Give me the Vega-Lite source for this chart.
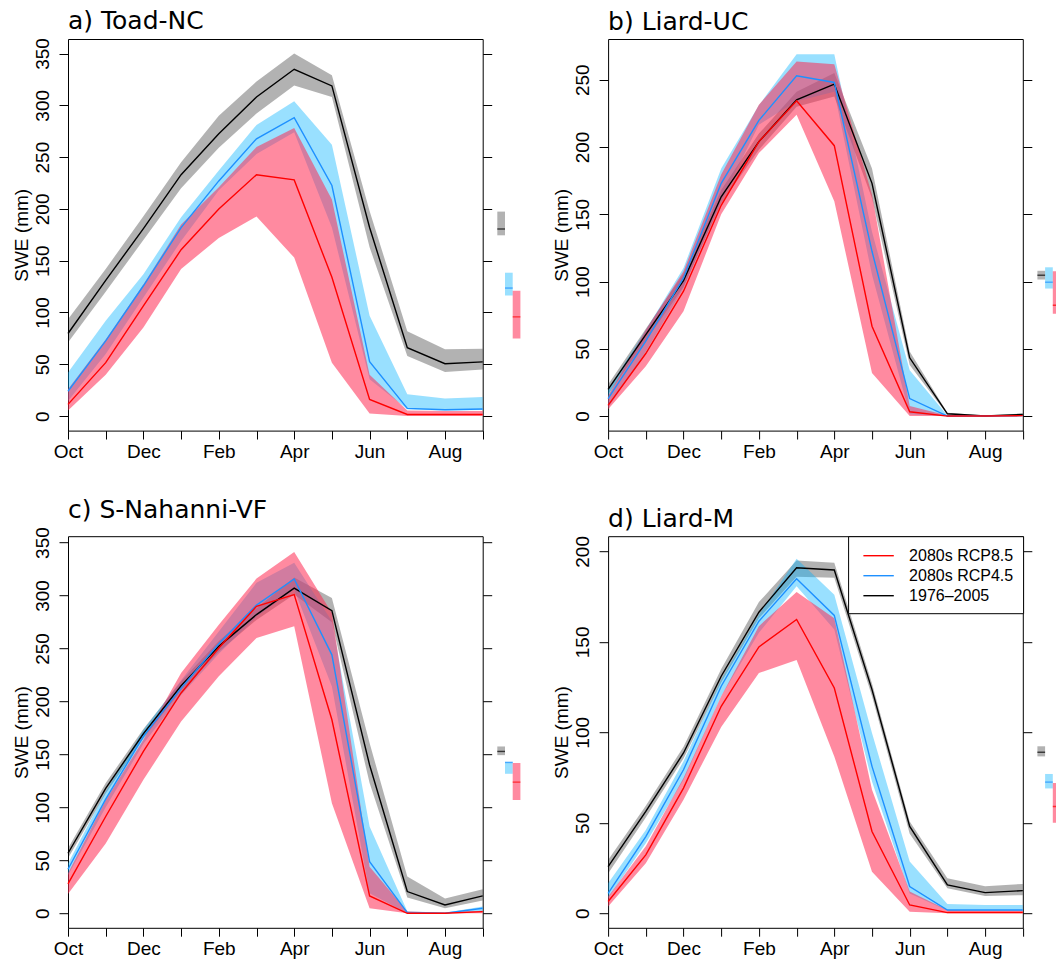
{
  "$schema": "https://vega.github.io/schema/vega-lite/v6.json",
  "padding": {"left": 11, "top": 8, "right": -3, "bottom": 0},
  "background": "white",
  "config": {
    "view": {"stroke": "black", "strokeWidth": 1},
    "axis": {"grid": false, "domain": false, "tickColor": "black", "tickWidth": 1, "labelColor": "black", "labelFont": "Liberation Sans", "labelFontSize": 19, "titleFont": "Liberation Sans", "titleFontSize": 19, "titleFontWeight": "normal", "titleColor": "black"},
    "title": {"font": "DejaVu Sans", "fontSize": 25, "fontWeight": "normal", "anchor": "start", "frame": "group", "color": "black", "offset": 0}
  },
  "datasets": {
    "swe": [
      {"p":"a","m":1,"s":"obs","v":79.7,"lo":71,"hi":93.5},{"p":"a","m":1,"s":"r45","v":24,"lo":14.5,"hi":42},{"p":"a","m":1,"s":"r85","v":11.3,"lo":5.5,"hi":26},
      {"p":"a","m":2,"s":"obs","v":131,"lo":120,"hi":142},{"p":"a","m":2,"s":"r45","v":72.6,"lo":60,"hi":92},{"p":"a","m":2,"s":"r85","v":51.6,"lo":40,"hi":74},
      {"p":"a","m":3,"s":"obs","v":181,"lo":170,"hi":193},{"p":"a","m":3,"s":"r45","v":125.8,"lo":114.5,"hi":137},{"p":"a","m":3,"s":"r85","v":106.5,"lo":85.5,"hi":127},
      {"p":"a","m":4,"s":"obs","v":233,"lo":220,"hi":245},{"p":"a","m":4,"s":"r45","v":182,"lo":169,"hi":192},{"p":"a","m":4,"s":"r85","v":160.6,"lo":142,"hi":185},
      {"p":"a","m":5,"s":"obs","v":272.6,"lo":259,"hi":290},{"p":"a","m":5,"s":"r45","v":227,"lo":218,"hi":237},{"p":"a","m":5,"s":"r85","v":200,"lo":172,"hi":221},
      {"p":"a","m":6,"s":"obs","v":308,"lo":292,"hi":323},{"p":"a","m":6,"s":"r45","v":267.7,"lo":253,"hi":281},{"p":"a","m":6,"s":"r85","v":233,"lo":192.6,"hi":259.7},
      {"p":"a","m":7,"s":"obs","v":334.8,"lo":319,"hi":350},{"p":"a","m":7,"s":"r45","v":288,"lo":274,"hi":304},{"p":"a","m":7,"s":"r85","v":228,"lo":153,"hi":278},
      {"p":"a","m":8,"s":"obs","v":318.7,"lo":308,"hi":329},{"p":"a","m":8,"s":"r45","v":222.6,"lo":182,"hi":262},{"p":"a","m":8,"s":"r85","v":134,"lo":51.6,"hi":209},
      {"p":"a","m":9,"s":"obs","v":182,"lo":163,"hi":198},{"p":"a","m":9,"s":"r45","v":52.6,"lo":35.5,"hi":96.8},{"p":"a","m":9,"s":"r85","v":16,"lo":2.6,"hi":40},
      {"p":"a","m":10,"s":"obs","v":66,"lo":58,"hi":82},{"p":"a","m":10,"s":"r45","v":7.4,"lo":6.5,"hi":21},{"p":"a","m":10,"s":"r85","v":1.6,"lo":0,"hi":5.5},
      {"p":"a","m":11,"s":"obs","v":50.6,"lo":42.6,"hi":64.5},{"p":"a","m":11,"s":"r45","v":6.1,"lo":5.5,"hi":17},{"p":"a","m":11,"s":"r85","v":1.6,"lo":0,"hi":5},
      {"p":"a","m":12,"s":"obs","v":52.3,"lo":45,"hi":65},{"p":"a","m":12,"s":"r45","v":6.8,"lo":5.8,"hi":18.4},{"p":"a","m":12,"s":"r85","v":1.6,"lo":0,"hi":5},

      {"p":"b","m":1,"s":"obs","v":19.8,"lo":16,"hi":23.5},{"p":"b","m":1,"s":"r45","v":13,"lo":6,"hi":20},{"p":"b","m":1,"s":"r85","v":8,"lo":5,"hi":14.9},
      {"p":"b","m":2,"s":"obs","v":60.6,"lo":56,"hi":65},{"p":"b","m":2,"s":"r45","v":55.7,"lo":48,"hi":64},{"p":"b","m":2,"s":"r85","v":46.5,"lo":37,"hi":64},
      {"p":"b","m":3,"s":"obs","v":100.7,"lo":96,"hi":106},{"p":"b","m":3,"s":"r45","v":102.7,"lo":95,"hi":110},{"p":"b","m":3,"s":"r85","v":92.8,"lo":78,"hi":107.7},
      {"p":"b","m":4,"s":"obs","v":163,"lo":158,"hi":168},{"p":"b","m":4,"s":"r45","v":173,"lo":160,"hi":184},{"p":"b","m":4,"s":"r85","v":156.7,"lo":150,"hi":179.5},
      {"p":"b","m":5,"s":"obs","v":204,"lo":198,"hi":210},{"p":"b","m":5,"s":"r45","v":219.8,"lo":216.6,"hi":231},{"p":"b","m":5,"s":"r85","v":204,"lo":195.5,"hi":231.4},
      {"p":"b","m":6,"s":"obs","v":235,"lo":230,"hi":241},{"p":"b","m":6,"s":"r45","v":253,"lo":234,"hi":269},{"p":"b","m":6,"s":"r85","v":234.4,"lo":224,"hi":263.6},
      {"p":"b","m":7,"s":"obs","v":246.8,"lo":237.6,"hi":255},{"p":"b","m":7,"s":"r45","v":248,"lo":241,"hi":269},{"p":"b","m":7,"s":"r85","v":201,"lo":159.7,"hi":261.6},
      {"p":"b","m":8,"s":"obs","v":173,"lo":162,"hi":184},{"p":"b","m":8,"s":"r45","v":122.5,"lo":105,"hi":137},{"p":"b","m":8,"s":"r85","v":66.8,"lo":32,"hi":164.6},
      {"p":"b","m":9,"s":"obs","v":43.3,"lo":38,"hi":48},{"p":"b","m":9,"s":"r45","v":13,"lo":1.2,"hi":34},{"p":"b","m":9,"s":"r85","v":3.2,"lo":0,"hi":7.4},
      {"p":"b","m":10,"s":"obs","v":1.7,"lo":1,"hi":2.5},{"p":"b","m":10,"s":"r45","v":0,"lo":0,"hi":0.5},{"p":"b","m":10,"s":"r85","v":0,"lo":0,"hi":0.5},
      {"p":"b","m":11,"s":"obs","v":0,"lo":0,"hi":0.5},{"p":"b","m":11,"s":"r45","v":0,"lo":0,"hi":0.3},{"p":"b","m":11,"s":"r85","v":0,"lo":0,"hi":0.3},
      {"p":"b","m":12,"s":"obs","v":1.2,"lo":0.5,"hi":2},{"p":"b","m":12,"s":"r45","v":0.3,"lo":0,"hi":0.8},{"p":"b","m":12,"s":"r85","v":0.3,"lo":0,"hi":0.8},

      {"p":"c","m":1,"s":"obs","v":56.7,"lo":52,"hi":61.5},{"p":"c","m":1,"s":"r45","v":41.6,"lo":36,"hi":47},{"p":"c","m":1,"s":"r85","v":27.7,"lo":18.3,"hi":37.8},
      {"p":"c","m":2,"s":"obs","v":118,"lo":113,"hi":123},{"p":"c","m":2,"s":"r45","v":107.7,"lo":100,"hi":115},{"p":"c","m":2,"s":"r85","v":91.4,"lo":66,"hi":107},
      {"p":"c","m":3,"s":"obs","v":169.5,"lo":165,"hi":174},{"p":"c","m":3,"s":"r45","v":167,"lo":160,"hi":173},{"p":"c","m":3,"s":"r85","v":152.8,"lo":126,"hi":163.8},
      {"p":"c","m":4,"s":"obs","v":214.8,"lo":210,"hi":219},{"p":"c","m":4,"s":"r45","v":212.6,"lo":206,"hi":220},{"p":"c","m":4,"s":"r85","v":208,"lo":181,"hi":226.8},
      {"p":"c","m":5,"s":"obs","v":252,"lo":247,"hi":257},{"p":"c","m":5,"s":"r45","v":254.5,"lo":245,"hi":266},{"p":"c","m":5,"s":"r85","v":250.4,"lo":223.7,"hi":272.5},
      {"p":"c","m":6,"s":"obs","v":282,"lo":277,"hi":288},{"p":"c","m":6,"s":"r45","v":291,"lo":280,"hi":312},{"p":"c","m":6,"s":"r85","v":289.8,"lo":260,"hi":316},
      {"p":"c","m":7,"s":"obs","v":307,"lo":301,"hi":317},{"p":"c","m":7,"s":"r45","v":315.6,"lo":305.6,"hi":331},{"p":"c","m":7,"s":"r85","v":300.8,"lo":271,"hi":341},
      {"p":"c","m":8,"s":"obs","v":285.7,"lo":274.7,"hi":297.7},{"p":"c","m":8,"s":"r45","v":244,"lo":214,"hi":275.6},{"p":"c","m":8,"s":"r85","v":182.7,"lo":104,"hi":283.5},
      {"p":"c","m":9,"s":"obs","v":140,"lo":123,"hi":160.7},{"p":"c","m":9,"s":"r45","v":48.8,"lo":19,"hi":82},{"p":"c","m":9,"s":"r85","v":16.4,"lo":4.7,"hi":44},
      {"p":"c","m":10,"s":"obs","v":20.5,"lo":15,"hi":34.7},{"p":"c","m":10,"s":"r45","v":0.6,"lo":0,"hi":2},{"p":"c","m":10,"s":"r85","v":0,"lo":0,"hi":1.6},
      {"p":"c","m":11,"s":"obs","v":7.9,"lo":4.7,"hi":14},{"p":"c","m":11,"s":"r45","v":0,"lo":0,"hi":0.6},{"p":"c","m":11,"s":"r85","v":0,"lo":0,"hi":0.5},
      {"p":"c","m":12,"s":"obs","v":16.4,"lo":12,"hi":22.7},{"p":"c","m":12,"s":"r45","v":4.7,"lo":1.6,"hi":6.3},{"p":"c","m":12,"s":"r85","v":1.6,"lo":0,"hi":2.5},

      {"p":"d","m":1,"s":"obs","v":25.8,"lo":22,"hi":29.5},{"p":"d","m":1,"s":"r45","v":11,"lo":8.3,"hi":16.6},{"p":"d","m":1,"s":"r85","v":6.5,"lo":3.7,"hi":9.2},
      {"p":"d","m":2,"s":"obs","v":56.3,"lo":53,"hi":59.5},{"p":"d","m":2,"s":"r45","v":42.4,"lo":38.7,"hi":46},{"p":"d","m":2,"s":"r85","v":32.3,"lo":27.7,"hi":37},
      {"p":"d","m":3,"s":"obs","v":88.6,"lo":85.5,"hi":92},{"p":"d","m":3,"s":"r45","v":79.3,"lo":73.8,"hi":84},{"p":"d","m":3,"s":"r85","v":69.2,"lo":62.7,"hi":74.7},
      {"p":"d","m":4,"s":"obs","v":131,"lo":127.5,"hi":135},{"p":"d","m":4,"s":"r45","v":125.5,"lo":120,"hi":129},{"p":"d","m":4,"s":"r85","v":114.4,"lo":103,"hi":120},
      {"p":"d","m":5,"s":"obs","v":166.4,"lo":163,"hi":172},{"p":"d","m":5,"s":"r45","v":161.4,"lo":155,"hi":165},{"p":"d","m":5,"s":"r85","v":147.2,"lo":132.8,"hi":158.7},
      {"p":"d","m":6,"s":"obs","v":191,"lo":186,"hi":195},{"p":"d","m":6,"s":"r45","v":184.9,"lo":180.8,"hi":196},{"p":"d","m":6,"s":"r85","v":162.4,"lo":140,"hi":177.5},
      {"p":"d","m":7,"s":"obs","v":189.7,"lo":185.4,"hi":193.7},{"p":"d","m":7,"s":"r45","v":164.6,"lo":156.8,"hi":176},{"p":"d","m":7,"s":"r85","v":124.5,"lo":86.7,"hi":163},
      {"p":"d","m":8,"s":"obs","v":123.6,"lo":120,"hi":127},{"p":"d","m":8,"s":"r45","v":81.2,"lo":72.9,"hi":99.6},{"p":"d","m":8,"s":"r85","v":45.2,"lo":23,"hi":68.3},
      {"p":"d","m":9,"s":"obs","v":48,"lo":44,"hi":50.7},{"p":"d","m":9,"s":"r45","v":14.8,"lo":11,"hi":28.6},{"p":"d","m":9,"s":"r85","v":4.6,"lo":0.9,"hi":12},
      {"p":"d","m":10,"s":"obs","v":15.7,"lo":13.8,"hi":19.4},{"p":"d","m":10,"s":"r45","v":1.8,"lo":1.5,"hi":5.2},{"p":"d","m":10,"s":"r85","v":0.4,"lo":0,"hi":1.8},
      {"p":"d","m":11,"s":"obs","v":11.4,"lo":9.6,"hi":15},{"p":"d","m":11,"s":"r45","v":1.8,"lo":1.3,"hi":4.6},{"p":"d","m":11,"s":"r85","v":0.4,"lo":0,"hi":1.5},
      {"p":"d","m":12,"s":"obs","v":12.5,"lo":10,"hi":16.2},{"p":"d","m":12,"s":"r45","v":1.8,"lo":1.3,"hi":4.6},{"p":"d","m":12,"s":"r85","v":0.4,"lo":0,"hi":1.5}
    ],
    "ann": [
      {"p":"a","s":"obs","v":180.6,"lo":174.5,"hi":197.4},{"p":"a","s":"r45","v":123.6,"lo":116.4,"hi":138.4},{"p":"a","s":"r85","v":95.8,"lo":74.8,"hi":121},
      {"p":"b","s":"obs","v":104.7,"lo":101.5,"hi":108},{"p":"b","s":"r45","v":99.5,"lo":94.8,"hi":110.6},{"p":"b","s":"r85","v":82.4,"lo":76,"hi":107.7},
      {"p":"c","s":"obs","v":152.8,"lo":149.3,"hi":157.5},{"p":"c","s":"r45","v":142.4,"lo":131.7,"hi":143},{"p":"c","s":"r85","v":123.8,"lo":107,"hi":141.8},
      {"p":"d","s":"obs","v":89,"lo":86.7,"hi":92.3},{"p":"d","s":"r45","v":72.5,"lo":69,"hi":77},{"p":"d","s":"r85","v":59,"lo":50,"hi":72}
    ]
  },
  "spacing": 35.2,
  "resolve": {"scale": {"color": "independent"}, "legend": {"color": "independent"}},
  "vconcat": [
    {
      "spacing": 30.1,
      "resolve": {"scale": {"color": "independent"}, "legend": {"color": "independent"}},
      "hconcat": [
        {
          "spacing": 4.3,
          "resolve": {"scale": {"color": "independent"}, "legend": {"color": "independent"}},
          "hconcat": [
            {
              "width": 414.7, "height": 391.6,
              "title": {"text": "a) Toad-NC"},
              "data": {"name": "swe"},
              "transform": [{"filter": "datum.p == 'a'"}],
              "encoding": {"x": {"field": "m", "type": "quantitative", "scale": {"domain": [1, 12], "nice": false, "zero": false}, "axis": {"values": [1,2,3,4,5,6,7,8,9,10,11,12], "labelExpr": "datum.value % 2 == 1 ? ['Oct','Nov','Dec','Jan','Feb','Mar','Apr','May','Jun','Jul','Aug','Sep'][datum.value - 1] : ''", "labelFlush": false, "labelOverlap": false, "title": null, "tickSize": 8.4, "labelPadding": 3}}},
              "layer": [
                {"transform": [{"filter": "datum.s == 'obs'"}], "mark": {"type": "area", "fill": "black", "opacity": 0.3}, "encoding": {"y": {"field": "lo", "type": "quantitative", "scale": {"domain": [-14, 364], "nice": false, "zero": false}, "axis": {"orient": "left", "values": [0,50,100,150,200,250,300,350], "title": "SWE (mm)", "labelAngle": -90, "labelAlign": "center", "labelBaseline": "alphabetic", "tickSize": 9, "labelPadding": 11, "titlePadding": 2}}, "y2": {"field": "hi"}}},
                {"transform": [{"filter": "datum.s == 'r45'"}], "mark": {"type": "area", "fill": "#00b2ff", "opacity": 0.4}, "encoding": {"y": {"field": "lo", "type": "quantitative", "scale": {"domain": [-14, 364], "nice": false, "zero": false}, "axis": null}, "y2": {"field": "hi"}}},
                {"transform": [{"filter": "datum.s == 'r85'"}], "mark": {"type": "area", "fill": "#ff2a52", "opacity": 0.55}, "encoding": {"y": {"field": "lo", "type": "quantitative", "scale": {"domain": [-14, 364], "nice": false, "zero": false}, "axis": null}, "y2": {"field": "hi"}}},
                {"transform": [{"filter": "datum.s == 'obs'"}], "mark": {"type": "line", "strokeWidth": 1.4}, "encoding": {"y": {"field": "v", "type": "quantitative", "scale": {"domain": [-14, 364], "nice": false, "zero": false}, "axis": {"orient": "right", "values": [0,50,100,150,200,250,300,350], "labels": false, "title": null, "tickSize": 9}}, "color": {"datum": "1976–2005", "type": "nominal", "scale": {"domain": ["2080s RCP8.5", "2080s RCP4.5", "1976–2005"], "range": ["#ff0000", "#1e90ff", "#000000"]}, "legend": null}}},
                {"transform": [{"filter": "datum.s == 'r45'"}], "mark": {"type": "line", "strokeWidth": 1.4}, "encoding": {"y": {"field": "v", "type": "quantitative", "scale": {"domain": [-14, 364], "nice": false, "zero": false}, "axis": null}, "color": {"datum": "2080s RCP4.5", "type": "nominal", "legend": null}}},
                {"transform": [{"filter": "datum.s == 'r85'"}], "mark": {"type": "line", "strokeWidth": 1.4}, "encoding": {"y": {"field": "v", "type": "quantitative", "scale": {"domain": [-14, 364], "nice": false, "zero": false}, "axis": null}, "color": {"datum": "2080s RCP8.5", "type": "nominal", "legend": null}}}
              ],
              "resolve": {"axis": {"y": "independent"}}
            },
            {
              "width": 23.1, "height": 391.6, "view": {"stroke": null},
              "data": {"name": "ann"},
              "transform": [{"filter": "datum.p == 'a'"}],
              "encoding": {"x": {"field": "s", "type": "nominal", "scale": {"type": "band", "domain": ["obs", "r45", "r85"], "paddingInner": 0, "paddingOuter": 0}, "axis": null}},
              "layer": [
                {"transform": [{"filter": "datum.s == 'obs'"}], "mark": {"type": "bar", "fill": "black", "opacity": 0.3}, "encoding": {"y": {"field": "lo", "type": "quantitative", "scale": {"domain": [-14, 364], "nice": false, "zero": false}, "axis": null}, "y2": {"field": "hi"}}},
                {"transform": [{"filter": "datum.s == 'r45'"}], "mark": {"type": "bar", "fill": "#00b2ff", "opacity": 0.4}, "encoding": {"y": {"field": "lo", "type": "quantitative", "scale": {"domain": [-14, 364], "nice": false, "zero": false}, "axis": null}, "y2": {"field": "hi"}}},
                {"transform": [{"filter": "datum.s == 'r85'"}], "mark": {"type": "bar", "fill": "#ff2a52", "opacity": 0.55}, "encoding": {"y": {"field": "lo", "type": "quantitative", "scale": {"domain": [-14, 364], "nice": false, "zero": false}, "axis": null}, "y2": {"field": "hi"}}},
                {"transform": [{"filter": "datum.s == 'obs'"}], "mark": {"type": "tick", "color": "#000000", "thickness": 1.4, "size": 7.7}, "encoding": {"y": {"field": "v", "type": "quantitative", "scale": {"domain": [-14, 364], "nice": false, "zero": false}, "axis": null}}},
                {"transform": [{"filter": "datum.s == 'r45'"}], "mark": {"type": "tick", "color": "#1e90ff", "thickness": 1.4, "size": 7.7}, "encoding": {"y": {"field": "v", "type": "quantitative", "scale": {"domain": [-14, 364], "nice": false, "zero": false}, "axis": null}}},
                {"transform": [{"filter": "datum.s == 'r85'"}], "mark": {"type": "tick", "color": "#ff0000", "thickness": 1.4, "size": 7.7}, "encoding": {"y": {"field": "v", "type": "quantitative", "scale": {"domain": [-14, 364], "nice": false, "zero": false}, "axis": null}}}
              ]
            }
          ]
        },
        {
          "spacing": 4.3,
          "resolve": {"scale": {"color": "independent"}, "legend": {"color": "independent"}},
          "hconcat": [
            {
              "width": 414.7, "height": 391.6,
              "title": {"text": "b) Liard-UC"},
              "data": {"name": "swe"},
              "transform": [{"filter": "datum.p == 'b'"}],
              "encoding": {"x": {"field": "m", "type": "quantitative", "scale": {"domain": [1, 12], "nice": false, "zero": false}, "axis": {"values": [1,2,3,4,5,6,7,8,9,10,11,12], "labelExpr": "datum.value % 2 == 1 ? ['Oct','Nov','Dec','Jan','Feb','Mar','Apr','May','Jun','Jul','Aug','Sep'][datum.value - 1] : ''", "labelFlush": false, "labelOverlap": false, "title": null, "tickSize": 8.4, "labelPadding": 3}}},
              "layer": [
                {"transform": [{"filter": "datum.s == 'obs'"}], "mark": {"type": "area", "fill": "black", "opacity": 0.3}, "encoding": {"y": {"field": "lo", "type": "quantitative", "scale": {"domain": [-10.8, 280.3], "nice": false, "zero": false}, "axis": {"orient": "left", "values": [0,50,100,150,200,250], "title": "SWE (mm)", "labelAngle": -90, "labelAlign": "center", "labelBaseline": "alphabetic", "tickSize": 9, "labelPadding": 11, "titlePadding": 2}}, "y2": {"field": "hi"}}},
                {"transform": [{"filter": "datum.s == 'r45'"}], "mark": {"type": "area", "fill": "#00b2ff", "opacity": 0.4}, "encoding": {"y": {"field": "lo", "type": "quantitative", "scale": {"domain": [-10.8, 280.3], "nice": false, "zero": false}, "axis": null}, "y2": {"field": "hi"}}},
                {"transform": [{"filter": "datum.s == 'r85'"}], "mark": {"type": "area", "fill": "#ff2a52", "opacity": 0.55}, "encoding": {"y": {"field": "lo", "type": "quantitative", "scale": {"domain": [-10.8, 280.3], "nice": false, "zero": false}, "axis": null}, "y2": {"field": "hi"}}},
                {"transform": [{"filter": "datum.s == 'obs'"}], "mark": {"type": "line", "strokeWidth": 1.4}, "encoding": {"y": {"field": "v", "type": "quantitative", "scale": {"domain": [-10.8, 280.3], "nice": false, "zero": false}, "axis": {"orient": "right", "values": [0,50,100,150,200,250], "labels": false, "title": null, "tickSize": 9}}, "color": {"datum": "1976–2005", "type": "nominal", "scale": {"domain": ["2080s RCP8.5", "2080s RCP4.5", "1976–2005"], "range": ["#ff0000", "#1e90ff", "#000000"]}, "legend": null}}},
                {"transform": [{"filter": "datum.s == 'r45'"}], "mark": {"type": "line", "strokeWidth": 1.4}, "encoding": {"y": {"field": "v", "type": "quantitative", "scale": {"domain": [-10.8, 280.3], "nice": false, "zero": false}, "axis": null}, "color": {"datum": "2080s RCP4.5", "type": "nominal", "legend": null}}},
                {"transform": [{"filter": "datum.s == 'r85'"}], "mark": {"type": "line", "strokeWidth": 1.4}, "encoding": {"y": {"field": "v", "type": "quantitative", "scale": {"domain": [-10.8, 280.3], "nice": false, "zero": false}, "axis": null}, "color": {"datum": "2080s RCP8.5", "type": "nominal", "legend": null}}}
              ],
              "resolve": {"axis": {"y": "independent"}}
            },
            {
              "width": 23.1, "height": 391.6, "view": {"stroke": null},
              "data": {"name": "ann"},
              "transform": [{"filter": "datum.p == 'b'"}],
              "encoding": {"x": {"field": "s", "type": "nominal", "scale": {"type": "band", "domain": ["obs", "r45", "r85"], "paddingInner": 0, "paddingOuter": 0}, "axis": null}},
              "layer": [
                {"transform": [{"filter": "datum.s == 'obs'"}], "mark": {"type": "bar", "fill": "black", "opacity": 0.3}, "encoding": {"y": {"field": "lo", "type": "quantitative", "scale": {"domain": [-10.8, 280.3], "nice": false, "zero": false}, "axis": null}, "y2": {"field": "hi"}}},
                {"transform": [{"filter": "datum.s == 'r45'"}], "mark": {"type": "bar", "fill": "#00b2ff", "opacity": 0.4}, "encoding": {"y": {"field": "lo", "type": "quantitative", "scale": {"domain": [-10.8, 280.3], "nice": false, "zero": false}, "axis": null}, "y2": {"field": "hi"}}},
                {"transform": [{"filter": "datum.s == 'r85'"}], "mark": {"type": "bar", "fill": "#ff2a52", "opacity": 0.55}, "encoding": {"y": {"field": "lo", "type": "quantitative", "scale": {"domain": [-10.8, 280.3], "nice": false, "zero": false}, "axis": null}, "y2": {"field": "hi"}}},
                {"transform": [{"filter": "datum.s == 'obs'"}], "mark": {"type": "tick", "color": "#000000", "thickness": 1.4, "size": 7.7}, "encoding": {"y": {"field": "v", "type": "quantitative", "scale": {"domain": [-10.8, 280.3], "nice": false, "zero": false}, "axis": null}}},
                {"transform": [{"filter": "datum.s == 'r45'"}], "mark": {"type": "tick", "color": "#1e90ff", "thickness": 1.4, "size": 7.7}, "encoding": {"y": {"field": "v", "type": "quantitative", "scale": {"domain": [-10.8, 280.3], "nice": false, "zero": false}, "axis": null}}},
                {"transform": [{"filter": "datum.s == 'r85'"}], "mark": {"type": "tick", "color": "#ff0000", "thickness": 1.4, "size": 7.7}, "encoding": {"y": {"field": "v", "type": "quantitative", "scale": {"domain": [-10.8, 280.3], "nice": false, "zero": false}, "axis": null}}}
              ]
            }
          ]
        }
      ]
    },
    {
      "spacing": 30.1,
      "resolve": {"scale": {"color": "independent"}, "legend": {"color": "independent"}},
      "hconcat": [
        {
          "spacing": 4.3,
          "resolve": {"scale": {"color": "independent"}, "legend": {"color": "independent"}},
          "hconcat": [
            {
              "width": 414.7, "height": 391.6,
              "title": {"text": "c) S-Nahanni-VF"},
              "data": {"name": "swe"},
              "transform": [{"filter": "datum.p == 'c'"}],
              "encoding": {"x": {"field": "m", "type": "quantitative", "scale": {"domain": [1, 12], "nice": false, "zero": false}, "axis": {"values": [1,2,3,4,5,6,7,8,9,10,11,12], "labelExpr": "datum.value % 2 == 1 ? ['Oct','Nov','Dec','Jan','Feb','Mar','Apr','May','Jun','Jul','Aug','Sep'][datum.value - 1] : ''", "labelFlush": false, "labelOverlap": false, "title": null, "tickSize": 8.4, "labelPadding": 3}}},
              "layer": [
                {"transform": [{"filter": "datum.s == 'obs'"}], "mark": {"type": "area", "fill": "black", "opacity": 0.3}, "encoding": {"y": {"field": "lo", "type": "quantitative", "scale": {"domain": [-13.7, 356], "nice": false, "zero": false}, "axis": {"orient": "left", "values": [0,50,100,150,200,250,300,350], "title": "SWE (mm)", "labelAngle": -90, "labelAlign": "center", "labelBaseline": "alphabetic", "tickSize": 9, "labelPadding": 11, "titlePadding": 2}}, "y2": {"field": "hi"}}},
                {"transform": [{"filter": "datum.s == 'r45'"}], "mark": {"type": "area", "fill": "#00b2ff", "opacity": 0.4}, "encoding": {"y": {"field": "lo", "type": "quantitative", "scale": {"domain": [-13.7, 356], "nice": false, "zero": false}, "axis": null}, "y2": {"field": "hi"}}},
                {"transform": [{"filter": "datum.s == 'r85'"}], "mark": {"type": "area", "fill": "#ff2a52", "opacity": 0.55}, "encoding": {"y": {"field": "lo", "type": "quantitative", "scale": {"domain": [-13.7, 356], "nice": false, "zero": false}, "axis": null}, "y2": {"field": "hi"}}},
                {"transform": [{"filter": "datum.s == 'obs'"}], "mark": {"type": "line", "strokeWidth": 1.4}, "encoding": {"y": {"field": "v", "type": "quantitative", "scale": {"domain": [-13.7, 356], "nice": false, "zero": false}, "axis": {"orient": "right", "values": [0,50,100,150,200,250,300,350], "labels": false, "title": null, "tickSize": 9}}, "color": {"datum": "1976–2005", "type": "nominal", "scale": {"domain": ["2080s RCP8.5", "2080s RCP4.5", "1976–2005"], "range": ["#ff0000", "#1e90ff", "#000000"]}, "legend": null}}},
                {"transform": [{"filter": "datum.s == 'r45'"}], "mark": {"type": "line", "strokeWidth": 1.4}, "encoding": {"y": {"field": "v", "type": "quantitative", "scale": {"domain": [-13.7, 356], "nice": false, "zero": false}, "axis": null}, "color": {"datum": "2080s RCP4.5", "type": "nominal", "legend": null}}},
                {"transform": [{"filter": "datum.s == 'r85'"}], "mark": {"type": "line", "strokeWidth": 1.4}, "encoding": {"y": {"field": "v", "type": "quantitative", "scale": {"domain": [-13.7, 356], "nice": false, "zero": false}, "axis": null}, "color": {"datum": "2080s RCP8.5", "type": "nominal", "legend": null}}}
              ],
              "resolve": {"axis": {"y": "independent"}}
            },
            {
              "width": 23.1, "height": 391.6, "view": {"stroke": null},
              "data": {"name": "ann"},
              "transform": [{"filter": "datum.p == 'c'"}],
              "encoding": {"x": {"field": "s", "type": "nominal", "scale": {"type": "band", "domain": ["obs", "r45", "r85"], "paddingInner": 0, "paddingOuter": 0}, "axis": null}},
              "layer": [
                {"transform": [{"filter": "datum.s == 'obs'"}], "mark": {"type": "bar", "fill": "black", "opacity": 0.3}, "encoding": {"y": {"field": "lo", "type": "quantitative", "scale": {"domain": [-13.7, 356], "nice": false, "zero": false}, "axis": null}, "y2": {"field": "hi"}}},
                {"transform": [{"filter": "datum.s == 'r45'"}], "mark": {"type": "bar", "fill": "#00b2ff", "opacity": 0.4}, "encoding": {"y": {"field": "lo", "type": "quantitative", "scale": {"domain": [-13.7, 356], "nice": false, "zero": false}, "axis": null}, "y2": {"field": "hi"}}},
                {"transform": [{"filter": "datum.s == 'r85'"}], "mark": {"type": "bar", "fill": "#ff2a52", "opacity": 0.55}, "encoding": {"y": {"field": "lo", "type": "quantitative", "scale": {"domain": [-13.7, 356], "nice": false, "zero": false}, "axis": null}, "y2": {"field": "hi"}}},
                {"transform": [{"filter": "datum.s == 'obs'"}], "mark": {"type": "tick", "color": "#000000", "thickness": 1.4, "size": 7.7}, "encoding": {"y": {"field": "v", "type": "quantitative", "scale": {"domain": [-13.7, 356], "nice": false, "zero": false}, "axis": null}}},
                {"transform": [{"filter": "datum.s == 'r45'"}], "mark": {"type": "tick", "color": "#1e90ff", "thickness": 1.4, "size": 7.7}, "encoding": {"y": {"field": "v", "type": "quantitative", "scale": {"domain": [-13.7, 356], "nice": false, "zero": false}, "axis": null}}},
                {"transform": [{"filter": "datum.s == 'r85'"}], "mark": {"type": "tick", "color": "#ff0000", "thickness": 1.4, "size": 7.7}, "encoding": {"y": {"field": "v", "type": "quantitative", "scale": {"domain": [-13.7, 356], "nice": false, "zero": false}, "axis": null}}}
              ]
            }
          ]
        },
        {
          "spacing": 4.3,
          "resolve": {"scale": {"color": "independent"}, "legend": {"color": "independent"}},
          "hconcat": [
            {
              "width": 414.7, "height": 391.6,
              "title": {"text": "d) Liard-M"},
              "data": {"name": "swe"},
              "transform": [{"filter": "datum.p == 'd'"}],
              "encoding": {"x": {"field": "m", "type": "quantitative", "scale": {"domain": [1, 12], "nice": false, "zero": false}, "axis": {"values": [1,2,3,4,5,6,7,8,9,10,11,12], "labelExpr": "datum.value % 2 == 1 ? ['Oct','Nov','Dec','Jan','Feb','Mar','Apr','May','Jun','Jul','Aug','Sep'][datum.value - 1] : ''", "labelFlush": false, "labelOverlap": false, "title": null, "tickSize": 8.4, "labelPadding": 3}}},
              "layer": [
                {"transform": [{"filter": "datum.s == 'obs'"}], "mark": {"type": "area", "fill": "black", "opacity": 0.3}, "encoding": {"y": {"field": "lo", "type": "quantitative", "scale": {"domain": [-8.02, 208.4], "nice": false, "zero": false}, "axis": {"orient": "left", "values": [0,50,100,150,200], "title": "SWE (mm)", "labelAngle": -90, "labelAlign": "center", "labelBaseline": "alphabetic", "tickSize": 9, "labelPadding": 11, "titlePadding": 2}}, "y2": {"field": "hi"}}},
                {"transform": [{"filter": "datum.s == 'r45'"}], "mark": {"type": "area", "fill": "#00b2ff", "opacity": 0.4}, "encoding": {"y": {"field": "lo", "type": "quantitative", "scale": {"domain": [-8.02, 208.4], "nice": false, "zero": false}, "axis": null}, "y2": {"field": "hi"}}},
                {"transform": [{"filter": "datum.s == 'r85'"}], "mark": {"type": "area", "fill": "#ff2a52", "opacity": 0.55}, "encoding": {"y": {"field": "lo", "type": "quantitative", "scale": {"domain": [-8.02, 208.4], "nice": false, "zero": false}, "axis": null}, "y2": {"field": "hi"}}},
                {"transform": [{"filter": "datum.s == 'obs'"}], "mark": {"type": "line", "strokeWidth": 1.4}, "encoding": {"y": {"field": "v", "type": "quantitative", "scale": {"domain": [-8.02, 208.4], "nice": false, "zero": false}, "axis": {"orient": "right", "values": [0,50,100,150,200], "labels": false, "title": null, "tickSize": 9}}, "color": {"datum": "1976–2005", "type": "nominal", "scale": {"domain": ["2080s RCP8.5", "2080s RCP4.5", "1976–2005"], "range": ["#ff0000", "#1e90ff", "#000000"]}, "legend": {"orient": "top-right", "offset": 0, "title": null, "symbolType": "M-1.6,0H1.6", "symbolSize": 361, "symbolStrokeWidth": 1.4, "labelFont": "Liberation Sans", "labelFontSize": 16, "labelColor": "black", "fillColor": "white", "strokeColor": "black", "padding": 9, "rowPadding": 1, "labelOffset": 20, "symbolOffset": 11}}}},
                {"transform": [{"filter": "datum.s == 'r45'"}], "mark": {"type": "line", "strokeWidth": 1.4}, "encoding": {"y": {"field": "v", "type": "quantitative", "scale": {"domain": [-8.02, 208.4], "nice": false, "zero": false}, "axis": null}, "color": {"datum": "2080s RCP4.5", "type": "nominal"}}},
                {"transform": [{"filter": "datum.s == 'r85'"}], "mark": {"type": "line", "strokeWidth": 1.4}, "encoding": {"y": {"field": "v", "type": "quantitative", "scale": {"domain": [-8.02, 208.4], "nice": false, "zero": false}, "axis": null}, "color": {"datum": "2080s RCP8.5", "type": "nominal"}}}
              ],
              "resolve": {"axis": {"y": "independent"}}
            },
            {
              "width": 23.1, "height": 391.6, "view": {"stroke": null},
              "data": {"name": "ann"},
              "transform": [{"filter": "datum.p == 'd'"}],
              "encoding": {"x": {"field": "s", "type": "nominal", "scale": {"type": "band", "domain": ["obs", "r45", "r85"], "paddingInner": 0, "paddingOuter": 0}, "axis": null}},
              "layer": [
                {"transform": [{"filter": "datum.s == 'obs'"}], "mark": {"type": "bar", "fill": "black", "opacity": 0.3}, "encoding": {"y": {"field": "lo", "type": "quantitative", "scale": {"domain": [-8.02, 208.4], "nice": false, "zero": false}, "axis": null}, "y2": {"field": "hi"}}},
                {"transform": [{"filter": "datum.s == 'r45'"}], "mark": {"type": "bar", "fill": "#00b2ff", "opacity": 0.4}, "encoding": {"y": {"field": "lo", "type": "quantitative", "scale": {"domain": [-8.02, 208.4], "nice": false, "zero": false}, "axis": null}, "y2": {"field": "hi"}}},
                {"transform": [{"filter": "datum.s == 'r85'"}], "mark": {"type": "bar", "fill": "#ff2a52", "opacity": 0.55}, "encoding": {"y": {"field": "lo", "type": "quantitative", "scale": {"domain": [-8.02, 208.4], "nice": false, "zero": false}, "axis": null}, "y2": {"field": "hi"}}},
                {"transform": [{"filter": "datum.s == 'obs'"}], "mark": {"type": "tick", "color": "#000000", "thickness": 1.4, "size": 7.7}, "encoding": {"y": {"field": "v", "type": "quantitative", "scale": {"domain": [-8.02, 208.4], "nice": false, "zero": false}, "axis": null}}},
                {"transform": [{"filter": "datum.s == 'r45'"}], "mark": {"type": "tick", "color": "#1e90ff", "thickness": 1.4, "size": 7.7}, "encoding": {"y": {"field": "v", "type": "quantitative", "scale": {"domain": [-8.02, 208.4], "nice": false, "zero": false}, "axis": null}}},
                {"transform": [{"filter": "datum.s == 'r85'"}], "mark": {"type": "tick", "color": "#ff0000", "thickness": 1.4, "size": 7.7}, "encoding": {"y": {"field": "v", "type": "quantitative", "scale": {"domain": [-8.02, 208.4], "nice": false, "zero": false}, "axis": null}}}
              ]
            }
          ]
        }
      ]
    }
  ]
}
